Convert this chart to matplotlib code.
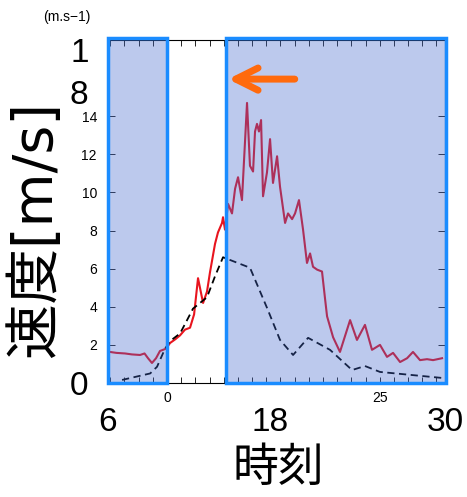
import matplotlib
matplotlib.use("Agg")
import matplotlib.pyplot as plt

plt.rcParams['font.family'] = ['Liberation Sans', 'Noto Sans CJK JP']

# 風速(赤) : 時刻, 値
red_t = [6.14, 6.6, 7.21, 7.7, 8.28, 8.6, 8.85, 9.13, 9.42, 9.70, 10.13, 10.42, 10.8, 11.13, 11.48,
         11.84, 12.13, 12.41, 12.77, 13.05, 13.26, 13.62, 13.83, 14.12, 14.19, 14.33, 14.55,
         14.83, 15.05, 15.26, 15.54, 15.90, 16.11, 16.33, 16.47, 16.61, 16.75, 16.90, 17.04,
         17.32, 17.54, 17.75, 18.04, 18.25, 18.61, 18.82, 19.11, 19.32, 19.60, 19.89, 20.17,
         20.39, 20.60, 20.89, 21.24, 21.46, 21.60, 22.03, 22.52, 23.24, 23.73, 24.30, 24.80,
         25.37, 25.87, 26.30, 26.80, 27.30, 27.72, 28.22, 28.72, 29.15, 29.79]
red_v = [1.63, 1.58, 1.55, 1.5, 1.47, 1.55, 1.3, 1.05, 1.3, 1.68, 1.8, 2.1, 2.3, 2.5, 2.8,
         2.9, 3.6, 5.5, 4.2, 4.8, 5.8, 7.3, 7.9, 8.4, 8.7, 8.05, 9.4,
         8.9, 10.2, 10.8, 9.6, 14.7, 11.4, 11.1, 13.2, 13.6, 13.2, 13.8, 9.8,
         11.05, 12.8, 10.5, 11.9, 10.3, 8.4, 8.9, 8.6, 8.9, 9.6, 8.05, 6.3,
         6.8, 6.1, 5.95, 5.85, 4.4, 3.5, 2.4, 1.63, 3.3, 2.26, 3.05, 1.74,
         2.0, 1.37, 1.58, 1.1, 1.3, 1.63, 1.2, 1.25, 1.2, 1.3]

# 破線(黒)
blk_t = [7.0, 9.0, 9.49, 10.06, 10.42, 11.13, 11.70, 12.05, 13.05, 13.62, 14.19, 16.11,
         17.32, 18.25, 19.18, 20.25, 21.81, 23.38, 24.30, 25.37, 29.86]
blk_v = [0.16, 0.5, 0.85, 1.8, 2.2, 2.6, 3.4, 3.9, 4.5, 5.6, 6.6, 6.05,
         3.95, 2.26, 1.47, 2.37, 1.74, 0.68, 0.89, 0.58, 0.26]

# 網掛け区間
spans = [(6.0, 10.2), (14.4, 30.1)]

big_x_pos = [6, 17.55, 30]
big_x_lab = ["6", "18", "30"]
big_y_pos = [0, 15.26, 17.47]
big_y_lab = ["0", "8", "1"]
small_y_pos = [2, 4, 6, 8, 10, 12, 14]
small_x_pos = [10.2 + 1.01 * k for k in range(-4, 20)]
small_x_lab = ["0" if k == 0 else ("25" if k == 15 else "") for k in range(-4, 20)]

fig = plt.figure(figsize=(4.67, 4.97), dpi=100)
ax = fig.add_axes([0.2313, 0.2294, 0.7216, 0.690])

ax.plot(red_t, red_v, color="#E8141E", lw=1.5, zorder=2)
ax.plot(blk_t, blk_v, color="black", lw=1.3, dashes=(4, 2.5), zorder=2)

for x0, x1 in spans:
    ax.axvspan(x0, x1, ymin=0, ymax=1.005, facecolor=(0.25, 0.40, 0.80, 0.35),
               edgecolor="#1A8CFF", lw=2.5, zorder=3, clip_on=False)

ax.annotate("", xy=(14.55, 15.95), xytext=(19.3, 15.95),
            arrowprops=dict(arrowstyle="->", color="#FF6A0D", lw=5,
                            mutation_scale=40, shrinkA=0, shrinkB=0), zorder=5)

ax.set_xlim(6, 30)
ax.set_ylim(0, 18)

ax.set_xticks(big_x_pos, big_x_lab)
ax.set_xticks(small_x_pos, small_x_lab, minor=True)
ax.set_yticks(big_y_pos, big_y_lab)
ax.set_yticks(small_y_pos, [str(v) for v in small_y_pos], minor=True)

ax.tick_params(axis="x", which="major", length=0, labelsize=24, pad=17)
ax.tick_params(axis="x", which="minor", direction="in", length=4, top=True, bottom=True,
               labelsize=10, pad=6)
ax.tick_params(axis="y", which="major", length=0, labelsize=24, pad=14)
ax.tick_params(axis="y", which="minor", direction="in", length=5, left=True, right=True,
               labelsize=10, pad=8)

ax.set_ylabel("速度[m/s]", fontsize=40, family=["DejaVu Sans", "Noto Sans CJK JP"])
ax.yaxis.set_label_coords(-0.135, 0.45)
ax.set_xlabel("時刻", fontsize=33, family=["Noto Sans CJK JP"])
ax.xaxis.set_label_coords(0.507, -0.175)

fig.text(0.143, 0.966, "(m.s−1)", fontsize=10, ha="center", va="center")

fig.savefig("out.png", dpi=100, facecolor="white")
